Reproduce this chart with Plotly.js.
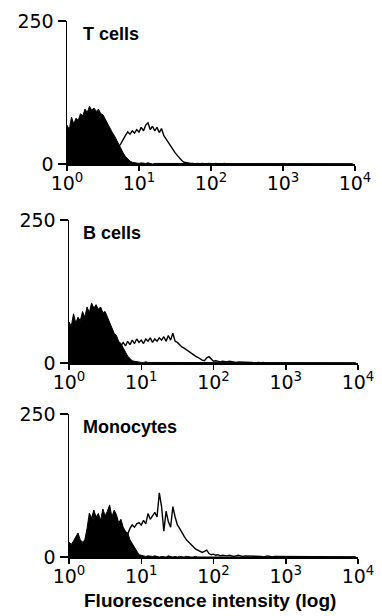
<!DOCTYPE html>
<html>
<head>
<meta charset="utf-8">
<script src="https://cdn.plot.ly/plotly-3.0.1.min.js"></script>
<style>
  html, body { margin: 0; padding: 0; background: #fff; }
  #chart { width: 382px; height: 616px; }
</style>
</head>
<body>
<div id="chart"></div>
<script>
// Flow cytometry histograms: 128 log channels spanning 4 decades (32 channels per decade)
const channelsPerDecade = 32;
const panelNames = ["T cells", "B cells", "Monocytes"];
const xTickVals = [1, 10, 100, 1000, 10000];
const xTickText = ["10<sup>0</sup>", "10<sup>1</sup>", "10<sup>2</sup>", "10<sup>3</sup>", "10<sup>4</sup>"];
const yTickVals = [0, 250];
const yTickText = ["0", "250"];
const xTitle = "Fluorescence intensity (log)";

// Control (filled) and stained (open) counts per channel
const tCellsControl = [
  68,60,82,70,80,76,88,84,96,90,101,94,98,92,96,88,
  86,78,70,62,56,50,42,34,26,19,13,9,5,3,2,2,
  1,2,1,1,2,1,0,1,1,0,1,1,0,1,0,0,
  1,0,0,1,0,0,0,1,0,0,0,0,1,0,0,0,
  0,0,0,0,0,0,0,0,0,0,0,0,0,0,0,0,
  0,0,0,0,0,0,0,0,0,0,0,0,0,0,0,0,
  0,0,0,0,0,0,0,0,0,0,0,0,0,0,0,0,
  0,0,0,0,0,0,0,0,0,0,0,0,0,0,0,0
];
const tCellsStained = [
  8,10,12,12,14,16,16,18,18,20,20,22,22,24,24,26,
  26,26,28,28,28,30,30,30,36,44,50,56,52,58,54,60,
  56,64,58,68,72,60,66,58,64,55,62,50,44,38,32,24,
  20,15,10,6,3,2,1,1,1,0,1,0,1,0,0,1,
  0,0,1,0,0,0,1,0,0,0,0,1,0,0,0,0,
  1,0,0,0,0,0,0,1,0,0,0,0,0,0,0,0,
  0,0,0,0,1,0,0,0,0,0,0,0,0,0,0,0,
  0,0,0,0,0,0,0,0,0,0,0,0,0,0,0,0
];
const bCellsControl = [
  72,64,86,70,80,74,90,80,98,88,105,96,102,94,98,88,
  90,80,70,62,52,48,38,34,26,20,12,8,4,3,2,2,
  1,1,2,1,1,0,1,1,0,1,0,1,0,0,1,0,
  0,1,0,0,0,1,0,0,0,0,0,0,0,0,0,0,
  0,0,0,0,0,0,0,0,0,0,0,0,0,0,0,0,
  0,0,0,0,0,0,0,0,0,0,0,0,0,0,0,0,
  0,0,0,0,0,0,0,0,0,0,0,0,0,0,0,0,
  0,0,0,0,0,0,0,0,0,0,0,0,0,0,0,0
];
const bCellsStained = [
  10,12,14,14,16,18,18,20,20,22,22,24,24,24,26,26,
  26,28,28,28,30,30,30,30,36,30,38,32,40,34,42,36,
  40,34,42,38,44,36,42,38,44,40,46,38,48,40,52,38,
  36,32,28,26,23,20,18,15,12,10,7,5,4,9,11,6,
  3,4,3,2,3,2,2,3,2,2,1,2,2,1,2,1,
  1,1,0,1,1,0,1,0,0,1,0,0,1,0,0,0,
  0,1,0,0,0,0,1,0,0,0,0,0,0,0,0,0,
  0,0,0,0,0,0,0,0,0,0,0,0,0,0,0,0
];
const monocytesControl = [
  26,22,28,34,42,30,26,30,50,77,68,82,70,76,64,84,
  72,80,91,70,82,74,60,66,52,44,42,30,24,16,10,4,
  3,2,1,2,1,1,2,1,0,1,1,0,2,1,0,1,
  0,1,0,0,1,0,0,0,1,0,0,0,0,1,0,0,
  0,0,0,0,0,0,0,0,0,0,0,0,0,0,0,0,
  0,0,0,0,0,0,0,0,0,0,0,0,0,0,0,0,
  0,0,0,0,0,0,0,0,0,0,0,0,0,0,0,0,
  0,0,0,0,0,0,0,0,0,0,0,0,0,0,0,0
];
const monocytesStained = [
  8,10,10,12,12,14,14,16,18,20,22,24,26,28,30,32,
  34,36,38,40,42,44,46,48,50,44,40,50,56,52,58,60,
  56,64,58,76,66,72,78,70,112,88,45,80,62,52,88,70,
  56,50,42,36,30,26,22,18,14,12,10,8,10,12,6,4,
  5,3,4,2,3,2,2,3,2,1,2,3,2,1,2,2,
  1,2,1,1,2,1,0,1,2,1,0,1,1,0,1,0,
  1,0,0,1,0,0,1,0,0,0,0,0,0,0,0,0,
  0,0,0,0,0,0,0,0,0,0,0,0,0,0,0,0
];

const controls = [tCellsControl, bCellsControl, monocytesControl];
const stained = [tCellsStained, bCellsStained, monocytesStained];

function channelX(arr) {
  return arr.map((_, i) => Math.pow(10, i / channelsPerDecade));
}

const W = 382, H = 616;
// pixel layout of each panel: [left, right, top, bottom]
const panelBox = [
  [67, 355, 21, 164],
  [69, 358, 220, 363],
  [69, 358, 414, 557]
];

const tickFont = { family: "DejaVu Sans", size: 19, color: "#000" };
const labelFont = { family: "Liberation Sans, Arial, sans-serif", size: 18, color: "#000", weight: "bold" };

const traces = [];
const layout = {
  width: W, height: H,
  margin: { l: 0, r: 0, t: 0, b: 0 },
  paper_bgcolor: "#fff", plot_bgcolor: "#fff",
  showlegend: false,
  annotations: []
};

for (let p = 0; p < 3; p++) {
  const sfx = p === 0 ? "" : String(p + 1);
  const xa = "x" + sfx, ya = "y" + sfx;
  // stained (open) first, then control (filled) on top
  traces.push({
    type: "scatter", mode: "lines", xaxis: xa, yaxis: ya,
    x: channelX(stained[p]), y: stained[p],
    line: { color: "#000", width: 1.4, shape: "linear" },
    hoverinfo: "skip"
  });
  traces.push({
    type: "scatter", mode: "lines", xaxis: xa, yaxis: ya,
    x: channelX(controls[p]), y: controls[p],
    line: { color: "#000", width: 1, shape: "linear" },
    fill: "tozeroy", fillcolor: "#000",
    hoverinfo: "skip"
  });
  const b = panelBox[p];
  layout["xaxis" + sfx] = {
    domain: [b[0] / W, b[1] / W],
    anchor: ya,
    type: "log", range: [0, 4],
    showline: true, linecolor: "#000", linewidth: 1.5,
    ticks: "outside", ticklen: 5, tickwidth: 1.5, tickcolor: "#000",
    tickvals: xTickVals, ticktext: xTickText,
    tickfont: tickFont, ticklabelstandoff: -3,
    showgrid: false, zeroline: false
  };
  layout["yaxis" + sfx] = {
    domain: [1 - b[3] / H, 1 - b[2] / H],
    anchor: xa,
    range: [0, 250],
    showline: true, linecolor: "#000", linewidth: 1.5,
    ticks: "outside", ticklen: 8, tickwidth: 1.5, tickcolor: "#000",
    tickvals: yTickVals, ticktext: yTickText,
    tickfont: tickFont,
    showgrid: false, zeroline: false
  };
  layout.annotations.push({
    text: panelNames[p], xref: "paper", yref: "paper",
    x: 81 / W, y: 1 - (b[2] + 1) / H,
    xanchor: "left", yanchor: "top", showarrow: false,
    font: labelFont
  });
}
// x-axis title of the bottom panel
layout.annotations.push({
  text: xTitle, xref: "paper", yref: "paper",
  x: 210 / W, y: 1 - 600 / H,
  xanchor: "center", yanchor: "middle", showarrow: false,
  font: { family: "Liberation Sans, Arial, sans-serif", size: 19, color: "#000", weight: "bold" }
});

Plotly.newPlot("chart", traces, layout, { staticPlot: true, displayModeBar: false });
</script>
</body>
</html>
